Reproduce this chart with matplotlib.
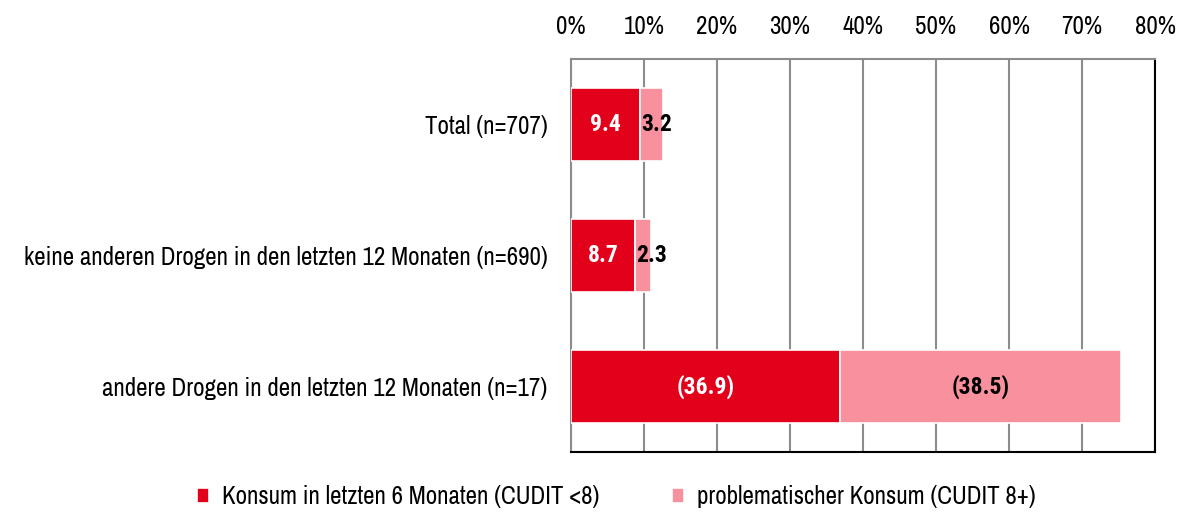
import matplotlib.pyplot as plt
import numpy as np

# Kategorien und Werte
categories = ['Total (n=707)',
              'keine anderen Drogen in den letzten 12 Monaten (n=690)',
              'andere Drogen in den letzten 12 Monaten (n=17)']
konsum = [9.4, 8.7, 36.9]
problem = [3.2, 2.3, 38.5]
konsum_labels = ['9.4', '8.7', '(36.9)']
problem_labels = ['3.2', '2.3', '(38.5)']
legend_labels = ['Konsum in letzten 6 Monaten (CUDIT <8)',
                 'problematischer Konsum (CUDIT 8+)']

plt.rcParams['font.family'] = ['Archivo Narrow', 'Liberation Sans', 'DejaVu Sans']
bold_font = ['Roboto Condensed', 'PT Sans Narrow', 'Liberation Sans', 'DejaVu Sans']

red = '#E2001A'
pink = '#F8909D'

fig = plt.figure(figsize=(11.79, 5.13), dpi=100)
ax = fig.add_axes([571 / 1179, 1 - 452 / 513, 584 / 1179, 393 / 513])

y = np.arange(len(categories))
h = 0.56
ax.barh(y, konsum, height=h, color=red, edgecolor='white', linewidth=1.2, zorder=3,
        label=legend_labels[0])
ax.barh(y, problem, left=konsum, height=h, color=pink, edgecolor='white', linewidth=1.2,
        zorder=3, label=legend_labels[1])

for i in range(len(categories)):
    ax.text(konsum[i] / 2, y[i], konsum_labels[i], ha='center', va='center',
            color='white', fontsize=17, fontweight='bold', family=bold_font, zorder=4)
    # kleine Segmente: Beschriftung beginnt am Segmentanfang
    if problem[i] < 10:
        ax.text(konsum[i] + 0.2, y[i], problem_labels[i], ha='left', va='center',
                color='black', fontsize=17, fontweight='bold', family=bold_font, zorder=4)
    else:
        ax.text(konsum[i] + problem[i] / 2, y[i], problem_labels[i], ha='center', va='center',
                color='black', fontsize=17, fontweight='bold', family=bold_font, zorder=4)

ax.set_xlim(0, 80)
ax.set_ylim(len(categories) - 0.5, -0.5)
ax.set_xticks(np.arange(0, 81, 10))
ax.set_xticklabels([f'{v}%' for v in range(0, 81, 10)])
ax.xaxis.tick_top()
ax.tick_params(axis='x', length=0, pad=15, labelsize=18)
ax.set_yticks(y)
ax.set_yticklabels(categories)
ax.tick_params(axis='y', length=0, pad=17, labelsize=18)
ax.grid(axis='x', color='#8c8c8c', linewidth=1.5, zorder=0)

ax.spines['left'].set_color('#8c8c8c')
ax.spines['top'].set_color('#8c8c8c')
ax.spines['right'].set_color('black')
ax.spines['bottom'].set_color('black')
for s in ax.spines.values():
    s.set_linewidth(1.5)

fig.legend(loc='lower center', bbox_to_anchor=(0.5225, -0.035), ncol=2, frameon=False,
           fontsize=18, handlelength=0.5, handleheight=0.5, handletextpad=0.5,
           columnspacing=2.9)

fig.savefig('out.png', dpi=100)
